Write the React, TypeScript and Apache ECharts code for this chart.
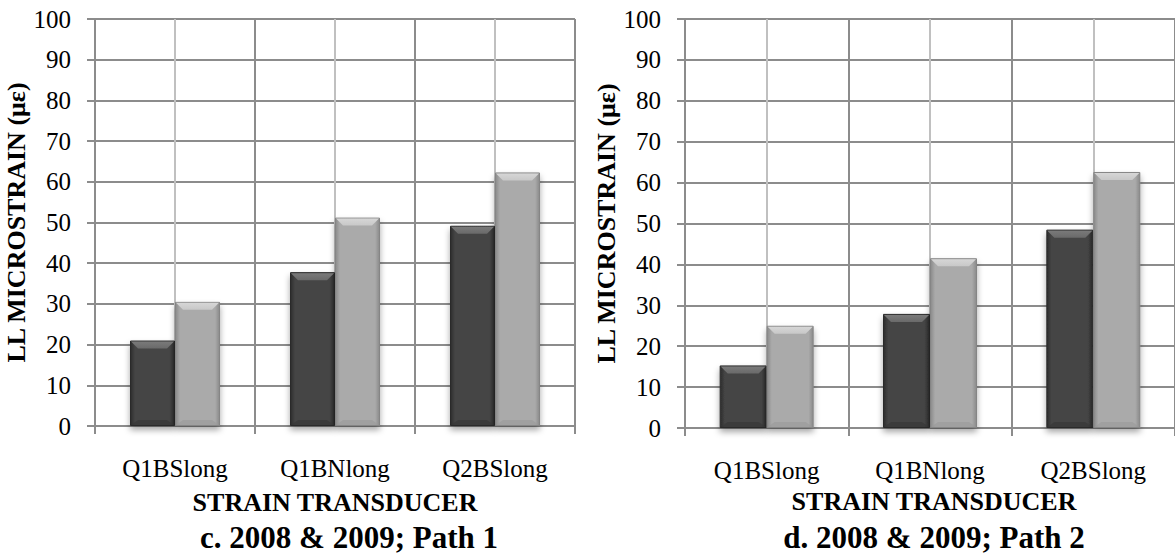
import React, { useEffect, useRef } from "react";
import * as echarts from "echarts";

const categories = ["Q1BSlong", "Q1BNlong", "Q2BSlong"];
const leftDark = [21.0, 37.8, 49.2];
const leftLight = [30.5, 51.2, 62.3];
const rightDark = [15.3, 27.9, 48.5];
const rightLight = [25.0, 41.5, 62.6];
const yTicks = { min: 0, max: 100, interval: 10 };
const yTitle = "LL MICROSTRAIN (με)";
const xTitle = "STRAIN TRANSDUCER";
const leftCaption = "c. 2008 & 2009; Path 1";
const rightCaption = "d. 2008 & 2009; Path 2";

const FONT = "Liberation Serif, serif";
const GRID_DARK = "#8c8c8c";
const GRID_LIGHT = "#c0c0c0";

const darkFill = new echarts.graphic.LinearGradient(0, 0, 1, 0, [
  { offset: 0, color: "#2c2c2c" },
  { offset: 0.1, color: "#454545" },
  { offset: 0.9, color: "#454545" },
  { offset: 1, color: "#2c2c2c" },
]);
const lightFill = new echarts.graphic.LinearGradient(0, 0, 1, 0, [
  { offset: 0, color: "#8a8a8a" },
  { offset: 0.1, color: "#aaaaaa" },
  { offset: 0.9, color: "#aaaaaa" },
  { offset: 1, color: "#8a8a8a" },
]);

const BEVEL = [
  { top: "#6a6a6a", topEdge: "#7a7a7a", bottom: "#363636" },
  { top: "#c8c8c8", topEdge: "#d6d6d6", bottom: "#999999" },
];

function bevelSeries(gridIndex: number, dark: number[], light: number[], barWidth: number) {
  const data: number[][] = [];
  dark.forEach((v, i) => data.push([i, v, 0]));
  light.forEach((v, i) => data.push([i, v, 1]));
  return {
    type: "custom",
    xAxisIndex: gridIndex * 2,
    yAxisIndex: gridIndex,
    silent: true,
    z: 3,
    data,
    renderItem: (_params: any, api: any) => {
      const idx = api.value(0);
      const val = api.value(1);
      const side = api.value(2);
      const top = api.coord([idx, val]);
      const base = api.coord([idx, 0]);
      const x0 = side === 0 ? top[0] - barWidth : top[0];
      const x1 = x0 + barWidth;
      const yT = top[1];
      const yB = base[1];
      const d = 8;
      const c = BEVEL[side];
      return {
        type: "group",
        children: [
          {
            type: "polygon",
            shape: { points: [[x0 + 1, yT + 1], [x1 - 1, yT + 1], [x1 - d, yT + d], [x0 + d, yT + d]] },
            style: {
              fill: new echarts.graphic.LinearGradient(0, 0, 0, 1, [
                { offset: 0, color: c.topEdge },
                { offset: 1, color: c.top },
              ]),
            },
          },
          {
            type: "polygon",
            shape: { points: [[x0 + 1, yB - 1], [x1 - 1, yB - 1], [x1 - d, yB - d + 2], [x0 + d, yB - d + 2]] },
            style: { fill: c.bottom, opacity: 0.6 },
          },
        ],
      };
    },
  };
}

function panel(gridIndex: number, dark: number[], light: number[], barWidth: number) {
  const xAxes = [
    {
      type: "category",
      gridIndex,
      data: categories,
      axisLine: { show: true, lineStyle: { color: GRID_DARK, width: 2 } },
      axisTick: { show: true, length: 8, lineStyle: { color: GRID_DARK, width: 2 } },
      axisLabel: { fontFamily: FONT, fontSize: 25, color: "#000", margin: 30 },
      splitLine: { show: false },
    },
    {
      type: "value",
      gridIndex,
      min: 0,
      max: 6,
      interval: 1,
      position: "top",
      axisLine: { show: false },
      axisTick: { show: false },
      axisLabel: { show: false },
      splitLine: { show: true, lineStyle: { color: [GRID_DARK, GRID_LIGHT], width: 2 } },
    },
  ];
  const yAxis = {
    type: "value",
    gridIndex,
    min: yTicks.min,
    max: yTicks.max,
    interval: yTicks.interval,
    name: yTitle,
    nameLocation: "middle",
    nameGap: 57,
    nameTextStyle: { fontFamily: FONT, fontSize: 26, fontWeight: "bold", color: "#000" },
    axisLine: { show: true, lineStyle: { color: GRID_DARK, width: 2 } },
    axisTick: { show: true, length: 8, lineStyle: { color: GRID_DARK, width: 2 } },
    axisLabel: { fontFamily: FONT, fontSize: 25, color: "#000", margin: 24 },
    splitLine: { show: true, lineStyle: { color: GRID_DARK, width: 2 } },
  };
  const common = {
    type: "bar",
    xAxisIndex: gridIndex * 2,
    yAxisIndex: gridIndex,
    barWidth,
    barGap: "0%",
  };
  const series: any[] = [
    {
      ...common,
      name: "2008",
      data: dark,
      itemStyle: {
        color: darkFill,
        borderColor: "#2a2a2a",
        borderWidth: 1,
        shadowColor: "rgba(0,0,0,0.35)",
        shadowBlur: 6,
        shadowOffsetY: 4,
      },
    },
    {
      ...common,
      name: "2009",
      data: light,
      itemStyle: {
        color: lightFill,
        borderColor: "#858585",
        borderWidth: 1,
        shadowColor: "rgba(0,0,0,0.35)",
        shadowBlur: 6,
        shadowOffsetY: 4,
      },
    },
    bevelSeries(gridIndex, dark, light, barWidth),
  ];
  return { xAxes, yAxis, series };
}

export default function App() {
  const ref = useRef<HTMLDivElement>(null);
  useEffect(() => {
    if (!ref.current) return;
    const chart = echarts.init(ref.current, null, { renderer: "svg" });
    const L = panel(0, leftDark, leftLight, 45);
    const R = panel(1, rightDark, rightLight, 47);
    const titleStyle = (x: number, y: number, text: string, size: number) => ({
      type: "text",
      x,
      y,
      style: {
        text,
        fontFamily: FONT,
        fontSize: size,
        fontWeight: "bold",
        fill: "#000",
        textAlign: "center",
        textVerticalAlign: "middle",
      },
    });
    chart.setOption({
      animation: false,
      backgroundColor: "#fff",
      textStyle: { fontFamily: FONT },
      grid: [
        { left: 95, top: 19, width: 480, height: 407 },
        { left: 685, top: 19, width: 498, height: 409 },
      ],
      xAxis: [...L.xAxes, ...R.xAxes],
      yAxis: [L.yAxis, R.yAxis],
      series: [...L.series, ...R.series],
      graphic: [
        titleStyle(335, 502, xTitle, 26),
        titleStyle(349, 537, leftCaption, 31),
        titleStyle(934, 501, xTitle, 26),
        titleStyle(934, 537, rightCaption, 31),
      ],
    });
    return () => chart.dispose();
  }, []);
  return (
    <div
      ref={ref}
      style={{ position: "fixed", left: 0, top: 0, width: 1175, height: 554 }}
    />
  );
}
